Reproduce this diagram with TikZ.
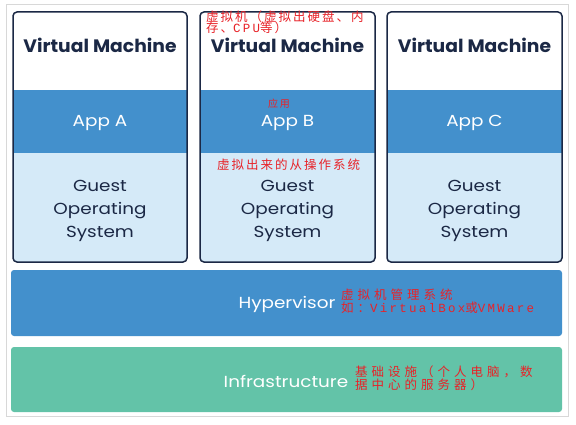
\documentclass[tikz,border=0pt]{standalone}
\usepackage{fontspec}
\setmainfont{Poppins}
\newfontfamily\widefont[FakeStretch=1.15]{Poppins}
\newfontfamily\titlefont[FakeStretch=1.04]{Poppins}
\newfontfamily\cjkA[LetterSpace=16]{Noto Sans CJK SC}
\newfontfamily\cjkB[LetterSpace=32]{Noto Sans CJK SC}
\newfontfamily\monoA[LetterSpace=18]{Liberation Mono}
\definecolor{appblue}{RGB}{67,144,204}
\definecolor{osblue}{RGB}{213,234,248}
\definecolor{infragreen}{RGB}{99,195,168}
\definecolor{navy}{RGB}{27,40,69}
\definecolor{annot}{RGB}{232,34,40}
\definecolor{framegray}{RGB}{216,216,216}
\tikzset{
  vmtitle/.style={font=\titlefont\bfseries\fontsize{18}{20}\selectfont, text=navy, inner sep=0pt},
  apptext/.style={font=\widefont\fontsize{16}{18}\selectfont, text=white, inner sep=0pt},
  ostext/.style={font=\widefont\fontsize{16}{23}\selectfont, text=navy, align=center, inner sep=0pt},
  layertext/.style={font=\widefont\fontsize{16}{18}\selectfont, text=white, inner sep=0pt},
  vmborder/.style={draw=navy, line width=1.5pt, rounded corners=4pt},
  layerbox/.style={rounded corners=3pt},
  notesmall/.style={text=annot, inner sep=0pt, anchor=west, font=\cjkA\fontsize{12.5}{12}\selectfont},
  notewide/.style={text=annot, inner sep=0pt, anchor=west, font=\cjkB\fontsize{12.5}{12}\selectfont},
}
\begin{document}
\begin{tikzpicture}[x=1pt,y=-1pt]
\useasboundingbox (0,0) rectangle (576,425);
\fill[white] (0,0) rectangle (576,425);
\draw[framegray, line width=1pt] (6,5) rectangle (568,416);
% layers
\fill[appblue, layerbox] (11,270) rectangle (562,336);
\node[layertext] (hyp) at (287,304) {Hypervisor};
\fill[infragreen, layerbox] (11,347) rectangle (562,412);
\node[layertext] (infra) at (286,381) {Infrastructure};
% VMs
\foreach \L/\R/\n/\app in {13/187/1/A, 200/375/2/B, 387/562/3/C}{
  \begin{scope}
    \clip[rounded corners=4pt] (\L,12) rectangle (\R,262);
    \fill[white] (\L,12) rectangle (\R,90);
    \fill[appblue] (\L,90) rectangle (\R,153);
    \fill[osblue] (\L,153) rectangle (\R,262);
  \end{scope}
  \draw[vmborder] (\L,12) rectangle (\R,262);
  \node[vmtitle] (vm\n) at ({(\L+\R)/2},45) {Virtual Machine};
  \node[apptext] (app\n) at ({(\L+\R)/2},123) {App \app};
  \node[ostext] (os\n) at ({(\L+\R)/2},211) {Guest\\Operating\\System};
}
% annotations
\node[notesmall] (n1) at (206,17) {虚拟机（虚拟出硬盘、内};
\node[notesmall] (n2) at (206,28) {存、{\monoA CPU}等）};
\node[text=annot, inner sep=0pt, anchor=west, font=\cjkA\fontsize{10}{10}\selectfont] (n3) at (268,104) {应用};
\node[notesmall] (n4) at (217,165) {虚拟出来的从操作系统};
\node[notewide] (n5) at (341,295) {虚拟机管理系统};
\node[notewide] (n6) at (341,308) {如：{\monoA VirtualBox}或{\monoA VMWare}};
\node[notewide] (n7) at (355,371.5) {基础设施（个人电脑，数};
\node[notewide] (n8) at (355,384.5) {据中心的服务器）};
\end{tikzpicture}
\end{document}
